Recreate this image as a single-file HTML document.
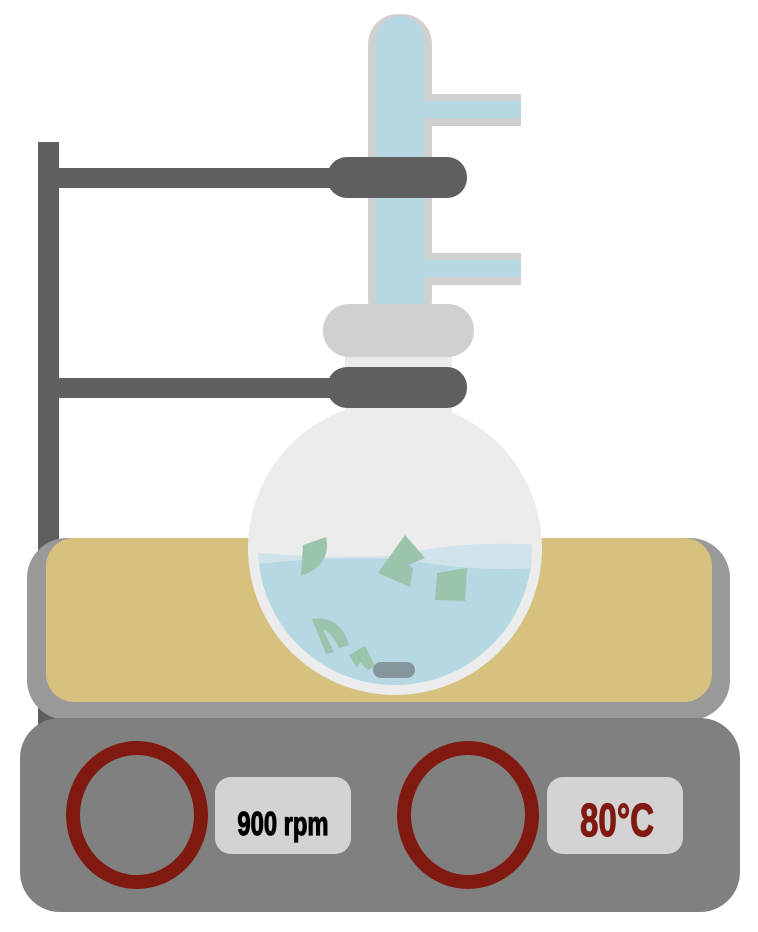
<!DOCTYPE html>
<html><head><meta charset="utf-8"><style>
html,body{margin:0;padding:0;background:#fff}
svg{display:block}
text{font-family:"Liberation Sans Narrow","Liberation Sans",sans-serif;font-weight:bold}
</style></head><body>
<svg width="758" height="932" viewBox="0 0 758 932">
<defs>
<clipPath id="fc"><circle cx="395" cy="548" r="137"/></clipPath>
</defs>
<rect x="38" y="142" width="21" height="590" fill="#5f5f5f"/>
<rect x="59" y="168" width="290" height="20" fill="#5f5f5f"/>
<rect x="59" y="378" width="290" height="20" fill="#5f5f5f"/>
<g>
<rect x="368" y="14" width="64" height="316" rx="30" fill="#d0d0d0"/>
<rect x="424" y="94" width="97" height="32" fill="#d0d0d0"/>
<rect x="424" y="253" width="97" height="32" fill="#d0d0d0"/>
<rect x="376" y="16" width="48" height="316" rx="24" fill="#b5d8e3"/>
<rect x="420" y="101" width="101" height="17" fill="#b5d8e3"/>
<rect x="420" y="260" width="101" height="17" fill="#b5d8e3"/>
</g>
<rect x="327" y="157" width="140" height="41" rx="20" fill="#5f5f5f"/>
<rect x="27" y="538" width="703" height="182" rx="40" fill="#999999"/>
<rect x="46" y="538" width="666" height="164" rx="28" fill="#d6c17f"/>
<rect x="345" y="350" width="107" height="80" fill="#ebebeb"/>
<circle cx="395" cy="548" r="147" fill="#ececec"/>
<g clip-path="url(#fc)">
<path d="M250 552 Q330 560 400 555 Q460 540 540 545 L540 700 L250 700Z" fill="#d0e3ea"/>
<path d="M250 565 Q330 555 410 560 Q470 572 540 568 L540 700 L250 700Z" fill="#b5d8e3"/>
</g>
<g fill="#9bc4ac">
<path d="M303 545 L326 537 Q332 565 301 576Z"/>
<path d="M378 573 L405 535 L425 558 L408 565 L413 568 L410 587Z"/>
<path d="M437 573 L467 568 L465 601 L435 600Z"/>
<path d="M312 619 Q340 615 349 645 L339 648 Q330 630 323 630 L334 652 L326 654Z"/>
<path d="M349 655 L365 646 L375 666 L368 670 L360 662 L357 668Z"/>
</g>
<rect x="373" y="662" width="42" height="16" rx="8" fill="#85959c"/>
<rect x="323" y="304" width="151" height="53" rx="26" fill="#d0cfd2"/>
<rect x="327" y="367" width="140" height="41" rx="20" fill="#5f5f5f"/>
<rect x="20" y="718" width="720" height="194" rx="40" fill="#808080"/>
<ellipse cx="137" cy="815" rx="64" ry="67" fill="none" stroke="#801a10" stroke-width="14"/>
<ellipse cx="468" cy="815" rx="64" ry="67" fill="none" stroke="#801a10" stroke-width="14"/>
<rect x="215" y="777" width="136" height="77" rx="16" fill="#d3d3d3"/>
<rect x="547" y="777" width="136" height="77" rx="16" fill="#d3d3d3"/>
<text x="283" y="835" text-anchor="middle" font-size="33" fill="#000" stroke="#000" stroke-width="1.2" transform="translate(283 0) scale(0.72 1) translate(-283 0)">900 rpm</text>
<text x="617" y="836" text-anchor="middle" font-size="46" fill="#801a10" stroke="#801a10" stroke-width="1.2" transform="translate(617 0) scale(0.72 1) translate(-617 0)">80°C</text>
</svg>
</body></html>
